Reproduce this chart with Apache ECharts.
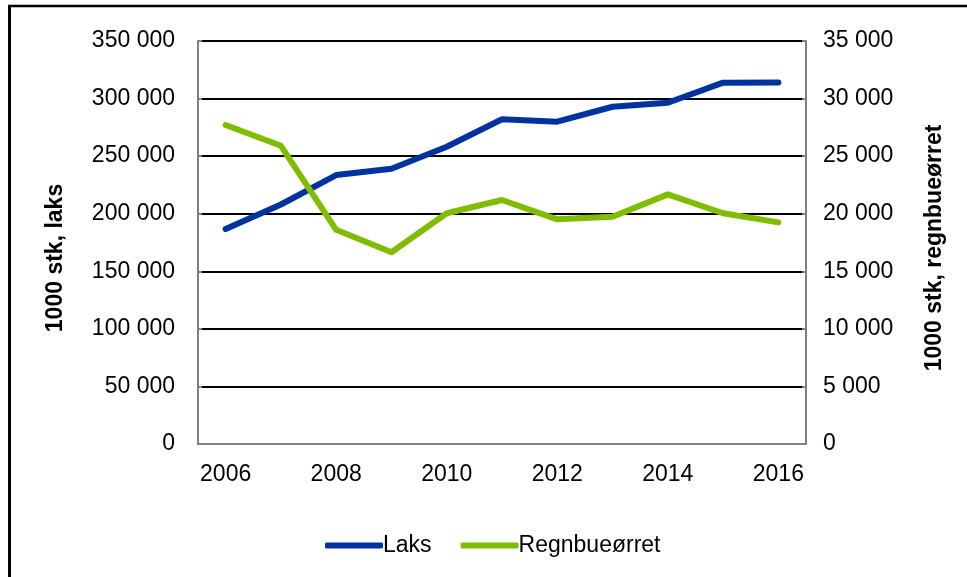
<!DOCTYPE html>
<html>
<head>
<meta charset="utf-8">
<script src="https://cdn.jsdelivr.net/npm/echarts@6/dist/echarts.min.js"></script>
<style>
html,body{margin:0;padding:0;background:#fff;}
#chart{width:967px;height:577px;}
</style>
</head>
<body>
<div id="chart"></div>
<script>
const years = ['2006','2007','2008','2009','2010','2011','2012','2013','2014','2015','2016'];
const laks = [186700, 208000, 233600, 239000, 258200, 282000, 279900, 292900, 296400, 313800, 314000];
const regnbueorret = [27700, 25900, 18600, 16650, 20040, 21190, 19510, 19740, 21680, 20040, 19250];
const leftTitle = '1000 stk, laks';
const rightTitle = '1000 stk, regnbueørret';

const FONT = '"Liberation Sans", Arial, sans-serif';
function fmt(v){ return String(v).replace(/\B(?=(\d{3})+(?!\d))/g, ' '); }

const chart = echarts.init(document.getElementById('chart'), null, {renderer:'canvas'});
chart.setOption({
  animation:false,
  backgroundColor:'#fff',
  textStyle:{fontFamily:FONT},
  grid:{left:198, right:161, top:41, bottom:133},
  legend:{
    left:320, top:529,
    icon:'roundRect',
    itemWidth:58, itemHeight:6, itemGap:29,
    textStyle:{fontSize:23, color:'#000', fontFamily:FONT, padding:[0,0,0,-5]},
    data:['Laks','Regnbueørret']
  },
  xAxis:{
    type:'category', data:years, boundaryGap:true,
    axisLine:{lineStyle:{color:'#808080', width:2}},
    axisTick:{show:false},
    axisLabel:{interval:1, fontSize:23, color:'#000', margin:19, fontFamily:FONT}
  },
  yAxis:[{
    type:'value', min:0, max:350000, interval:50000, position:'left',
    axisLine:{show:true, lineStyle:{color:'#808080', width:2}},
    axisTick:{show:true, inside:true, length:4, lineStyle:{color:'#808080', width:2}},
    axisLabel:{fontSize:23, color:'#000', margin:23, formatter:fmt, fontFamily:FONT},
    splitLine:{show:true, lineStyle:{color:'#000', width:2}}
  },{
    type:'value', min:0, max:35000, interval:5000, position:'right',
    axisLine:{show:true, lineStyle:{color:'#808080', width:2}},
    axisTick:{show:true, inside:true, length:4, lineStyle:{color:'#808080', width:2}},
    axisLabel:{fontSize:23, color:'#000', margin:17, formatter:fmt, fontFamily:FONT},
    splitLine:{show:false}
  }],
  series:[{
    name:'Laks', type:'line', data:laks, yAxisIndex:0,
    symbol:'none', color:'#0033a0',
    lineStyle:{width:6, color:'#0033a0', cap:'round', join:'round'}
  },{
    name:'Regnbueørret', type:'line', data:regnbueorret, yAxisIndex:1,
    symbol:'none', color:'#80bc00',
    lineStyle:{width:6, color:'#80bc00', cap:'round', join:'round'}
  }],
  graphic:[
    {type:'line', shape:{x1:8, y1:6, x2:967, y2:6}, style:{stroke:'#000', lineWidth:2.5}},
    {type:'line', shape:{x1:9.5, y1:5, x2:9.5, y2:577}, style:{stroke:'#000', lineWidth:3}},
    {type:'text', x:56, y:258, rotation:Math.PI/2,
     style:{text:leftTitle, font:'bold 23px '+FONT, fill:'#000', textAlign:'center', textVerticalAlign:'middle'}},
    {type:'text', x:935, y:248, rotation:Math.PI/2,
     style:{text:rightTitle, font:'bold 23px '+FONT, fill:'#000', textAlign:'center', textVerticalAlign:'middle'}}
  ]
});
</script>
</body>
</html>
